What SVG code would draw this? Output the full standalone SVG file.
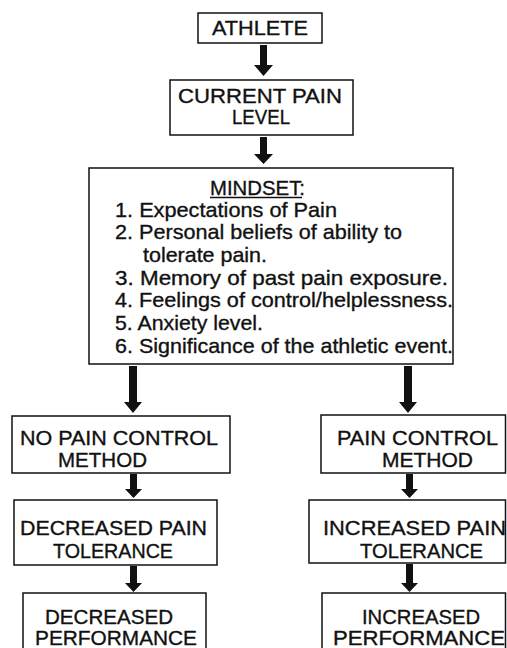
<svg xmlns="http://www.w3.org/2000/svg" width="507" height="648" viewBox="0 0 507 648">
<style>
.box{fill:#fff;stroke:#111;stroke-width:1.5}
text{font-family:"Liberation Sans",Arial,sans-serif;font-size:21px;fill:#111;stroke:#111;stroke-width:0.35}
.arr{fill:#111}
</style>
<rect width="507" height="648" fill="#fff"/>
<g id="connectors">
<polygon class="arr" points="260,45 267,45 267,65 273,65 263.5,76 254,65 260,65"/>
<polygon class="arr" points="260,137 267,137 267,154 273,154 263.5,164 254,154 260,154"/>
<polygon class="arr" points="129,366 137,366 137,402 142,402 133,413 124,402 129,402"/>
<polygon class="arr" points="404,366 412,366 412,402 417,402 408,413 399,402 404,402"/>
<polygon class="arr" points="130,474 137,474 137,489 142,489 133.5,498 125,489 130,489"/>
<polygon class="arr" points="130,566 137,566 137,583 142,583 133.5,592 125,583 130,583"/>
<polygon class="arr" points="406,474 413,474 413,489 418,489 409.5,498 401,489 406,489"/>
<polygon class="arr" points="406,564 413,564 413,583 418,583 409.5,592 401,583 406,583"/>
</g>
<g id="athlete">
<rect class="box" x="198" y="13" width="124" height="30"/>
<text x="212" y="35" textLength="96" lengthAdjust="spacingAndGlyphs">ATHLETE</text>
</g>
<g id="current">
<rect class="box" x="170" y="80" width="183" height="55"/>
<text x="178" y="103" textLength="164" lengthAdjust="spacingAndGlyphs">CURRENT PAIN</text>
<text x="232" y="124" textLength="58" lengthAdjust="spacingAndGlyphs">LEVEL</text>
</g>
<g id="mindset">
<rect class="box" x="89" y="168" width="364" height="196"/>
<text x="210" y="195" textLength="95" lengthAdjust="spacingAndGlyphs">MINDSET:</text>
<line x1="210" y1="197.5" x2="302" y2="197.5" stroke="#111" stroke-width="1.5"/>
<text x="115" y="217" textLength="222" lengthAdjust="spacingAndGlyphs">1. Expectations of Pain</text>
<text x="115" y="239" textLength="287" lengthAdjust="spacingAndGlyphs">2. Personal beliefs of ability to</text>
<text x="143" y="262" textLength="124" lengthAdjust="spacingAndGlyphs">tolerate pain.</text>
<text x="115" y="285" textLength="333" lengthAdjust="spacingAndGlyphs">3. Memory of past pain exposure.</text>
<text x="115" y="307" textLength="338" lengthAdjust="spacingAndGlyphs">4. Feelings of control/helplessness.</text>
<text x="115" y="330" textLength="148" lengthAdjust="spacingAndGlyphs">5. Anxiety level.</text>
<text x="115" y="353" textLength="338" lengthAdjust="spacingAndGlyphs">6. Significance of the athletic event.</text>
</g>
<g id="no-pain-control">
<rect class="box" x="12" y="416" width="218" height="57"/>
<text x="20" y="445" textLength="198" lengthAdjust="spacingAndGlyphs">NO PAIN CONTROL</text>
<text x="58" y="467" textLength="89" lengthAdjust="spacingAndGlyphs">METHOD</text>
</g>
<g id="decreased-tolerance">
<rect class="box" x="14" y="500" width="203" height="65"/>
<text x="20" y="535" textLength="187" lengthAdjust="spacingAndGlyphs">DECREASED PAIN</text>
<text x="53" y="558" textLength="120" lengthAdjust="spacingAndGlyphs">TOLERANCE</text>
</g>
<g id="decreased-performance">
<rect class="box" x="23" y="593" width="183" height="60"/>
<text x="45" y="624" textLength="128" lengthAdjust="spacingAndGlyphs">DECREASED</text>
<text x="35" y="645" textLength="162" lengthAdjust="spacingAndGlyphs">PERFORMANCE</text>
</g>
<g id="pain-control">
<rect class="box" x="321" y="415" width="184.5" height="58"/>
<text x="337" y="445" textLength="161" lengthAdjust="spacingAndGlyphs">PAIN CONTROL</text>
<text x="382" y="467" textLength="91" lengthAdjust="spacingAndGlyphs">METHOD</text>
</g>
<g id="increased-tolerance">
<rect class="box" x="309" y="500" width="196.5" height="63"/>
<text x="323" y="535" textLength="183" lengthAdjust="spacingAndGlyphs">INCREASED PAIN</text>
<text x="360" y="558" textLength="123" lengthAdjust="spacingAndGlyphs">TOLERANCE</text>
</g>
<g id="increased-performance">
<rect class="box" x="322" y="593" width="183.5" height="60"/>
<text x="362" y="624" textLength="118" lengthAdjust="spacingAndGlyphs">INCREASED</text>
<text x="333" y="645" textLength="172" lengthAdjust="spacingAndGlyphs">PERFORMANCE</text>
</g>
</svg>
